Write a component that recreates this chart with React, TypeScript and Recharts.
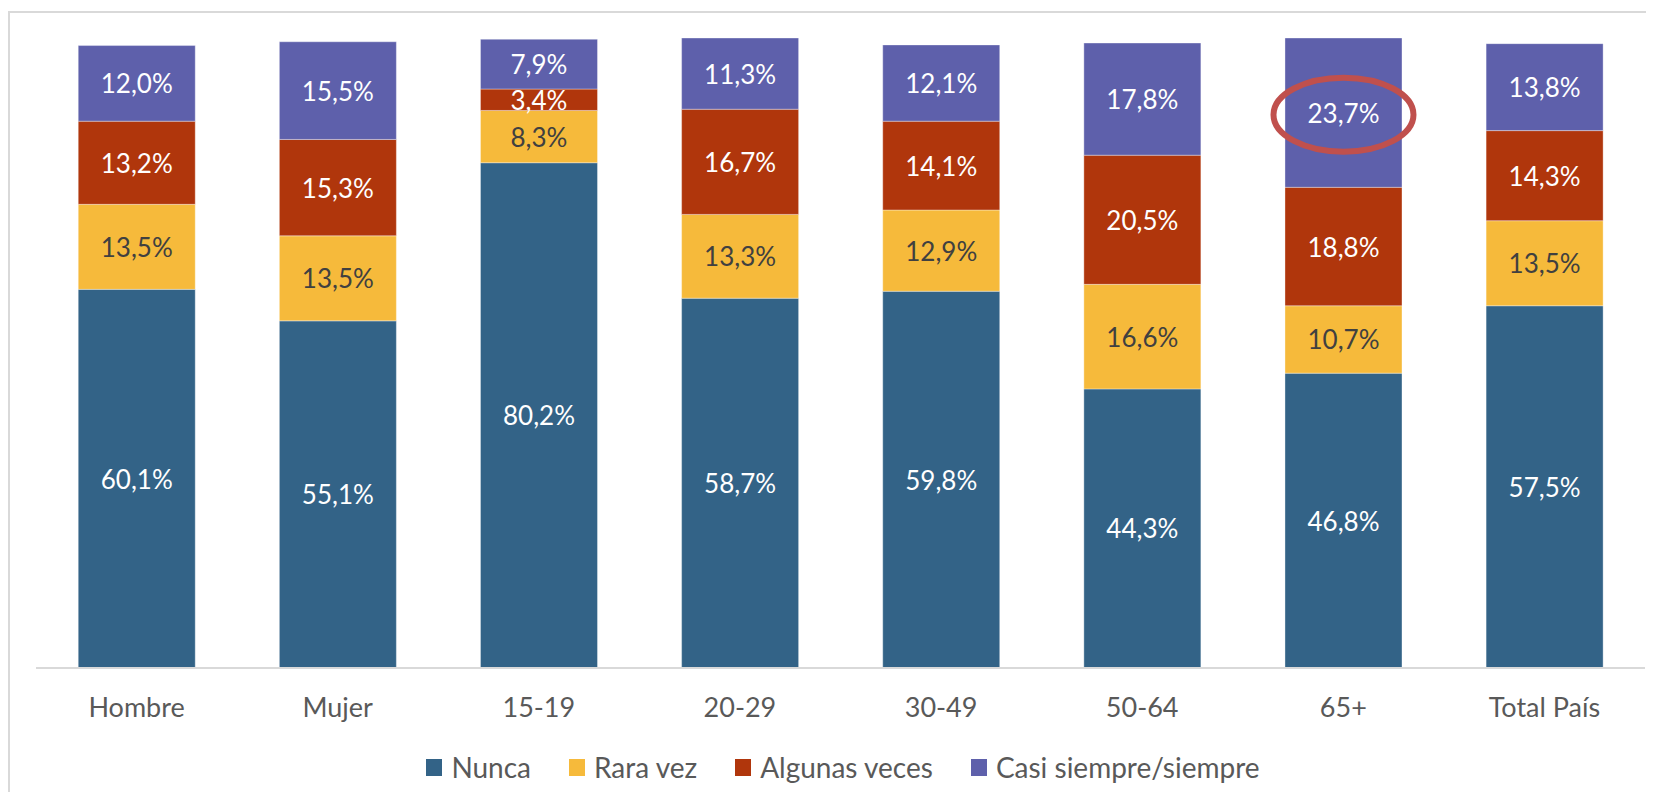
import { Bar, BarChart, LabelList, XAxis, YAxis } from "recharts";

const categories = ["Hombre", "Mujer", "15-19", "20-29", "30-49", "50-64", "65+", "Total País"];
const nunca = [60.1, 55.1, 80.2, 58.7, 59.8, 44.3, 46.8, 57.5];
const raraVez = [13.5, 13.5, 8.3, 13.3, 12.9, 16.6, 10.7, 13.5];
const algunasVeces = [13.2, 15.3, 3.4, 16.7, 14.1, 20.5, 18.8, 14.3];
const casiSiempre = [12.0, 15.5, 7.9, 11.3, 12.1, 17.8, 23.7, 13.8];

const seriesNames = ["Nunca", "Rara vez", "Algunas veces", "Casi siempre/siempre"];
const seriesKeys = ["nunca", "raraVez", "algunas", "casi"];
const seriesColors = ["#336387", "#F6BA3B", "#B0360C", "#5E60AB"];
const labelColors = ["#ffffff", "#404040", "#ffffff", "#ffffff"];
const highlighted = "65+";

const data = categories.map((name, i) => ({
  name,
  nunca: nunca[i],
  raraVez: raraVez[i],
  algunas: algunasVeces[i],
  casi: casiSiempre[i],
}));

const FONT = "Lato, 'Open Sans', sans-serif";

const fmt = (v: number) => v.toFixed(1).replace(".", ",") + "%";

function makeLabel(color: string, highlight: boolean) {
  return (props: any) => {
    const { x, y, width, height, value, index } = props;
    const cx = Number(x) + Number(width) / 2;
    const cy = Number(y) + Number(height) / 2;
    return (
      <g>
        <text
          x={cx}
          y={cy}
          fill={color}
          fontSize={26}
          fontFamily={FONT}
          textAnchor="middle"
          dominantBaseline="central"
        >
          {fmt(Number(value))}
        </text>
        {highlight && categories[index] === highlighted && (
          <ellipse
            cx={cx}
            cy={cy + 2}
            rx={70}
            ry={37}
            fill="none"
            stroke="#C0504D"
            strokeWidth={6}
          />
        )}
      </g>
    );
  };
}

export default function App() {
  return (
    <div
      style={{
        position: "relative",
        width: 1646,
        height: 784,
        overflow: "hidden",
        background: "#fff",
        fontFamily: FONT,
      }}
    >
      <div
        style={{
          position: "absolute",
          left: 0,
          top: 3,
          width: 1700,
          height: 900,
          borderTop: "2px solid #d9d9d9",
          borderLeft: "2px solid #d9d9d9",
        }}
      />
      <div style={{ position: "absolute", left: 0, top: 0 }}>
        <BarChart
          width={1646}
          height={784}
          data={data}
          margin={{ top: 30, right: 9, bottom: 64, left: 28 }}
          barCategoryGap="21%"
        >
          <XAxis
            dataKey="name"
            axisLine={{ stroke: "#d9d9d9", strokeWidth: 2 }}
            tickLine={false}
            tickMargin={24}
            height={60}
            interval={0}
            tick={{ fill: "#595959", fontSize: 27, fontFamily: FONT }}
          />
          <YAxis hide domain={[0, 100]} />
          {seriesKeys.map((key, i) => (
            <Bar
              key={key}
              dataKey={key}
              name={seriesNames[i]}
              stackId="a"
              fill={seriesColors[i]}
              stroke="#ffffff"
              strokeOpacity={0.35}
              strokeWidth={1}
              isAnimationActive={false}
            >
              <LabelList dataKey={key} content={makeLabel(labelColors[i], i === 3)} />
            </Bar>
          ))}
        </BarChart>
      </div>
      <div
        style={{
          position: "absolute",
          left: 12,
          top: 744,
          width: 1646,
          display: "flex",
          justifyContent: "center",
          alignItems: "center",
          gap: 38,
        }}
      >
        {seriesNames.map((n, i) => (
          <div key={n} style={{ display: "flex", alignItems: "center", gap: 9 }}>
            <span style={{ width: 16, height: 17, background: seriesColors[i], display: "inline-block" }} />
            <span style={{ fontSize: 28, color: "#595959", lineHeight: "30px" }}>{n}</span>
          </div>
        ))}
      </div>
    </div>
  );
}
